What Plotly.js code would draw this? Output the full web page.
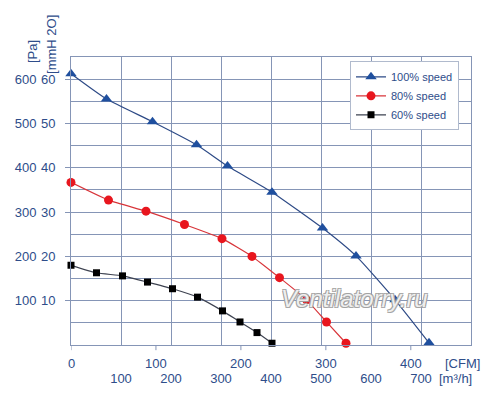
<!DOCTYPE html>
<html>
<head>
<meta charset="utf-8">
<script src="https://cdn.plot.ly/plotly-3.0.1.min.js"></script>
<style>html,body{margin:0;padding:0;background:#fff;}#chart{width:500px;height:402px;}</style>
</head>
<body>
<div id="chart"></div>
<script>
// Airflow in m³/h, pressure in Pa
const seriesNames = ['100% speed', '80% speed', '60% speed'];
const flow100 = [0, 71, 163, 251, 313, 402, 503, 570, 648, 716];
const pres100 = [612, 555, 504, 452, 404, 345, 264, 201, 102, 5];
const flow80 = [0, 75, 150, 227, 302, 362, 417, 471, 511, 550];
const pres80 = [367, 327, 302, 272, 240, 200, 152, 102, 52, 4];
const flow60 = [0, 51, 103, 153, 203, 253, 303, 338, 372, 402];
const pres60 = [180, 163, 156, 142, 127, 108, 77, 52, 28, 4];

const paTicks = [100, 200, 300, 400, 500, 600];
const paLabels = ['100', '200', '300', '400', '500', '600'];
const mmTicks = [10, 20, 30, 40, 50, 60];
const mmLabels = ['10', '20', '30', '40', '50', '60'];
const m3hTicks = [100, 200, 300, 400, 500, 600, 700];
const m3hLabels = ['100', '200', '300', '400', '500', '600', '700'];
const cfmTicks = [0, 100, 200, 300, 400];
const cfmLabels = ['0', '100', '200', '300', '400'];
const CFM_TO_M3H = 1.699;   // 1 CFM in m³/h
const PA_PER_MM = 10;       // chart scale: 10 Pa per mmH2O

const txt = '#2e4d8a';
const grid = '#8595b6';
const font = 'Liberation Sans, Arial, sans-serif';

const traces = [
  {x: flow100, y: pres100, name: seriesNames[0], type: 'scatter', mode: 'lines+markers',
   line: {color: '#2d4a86', width: 1.2, shape: 'spline', smoothing: 0.5},
   marker: {symbol: 'triangle-up', size: 10, color: '#1f4f9e'}, cliponaxis: false},
  {x: flow80, y: pres80, name: seriesNames[1], type: 'scatter', mode: 'lines+markers',
   line: {color: '#d8353a', width: 1.2, shape: 'spline', smoothing: 0.5},
   marker: {symbol: 'circle', size: 9, color: '#e8161e'}, cliponaxis: false},
  {x: flow60, y: pres60, name: seriesNames[2], type: 'scatter', mode: 'lines+markers',
   line: {color: '#3d4250', width: 1.2, shape: 'spline', smoothing: 0.5},
   marker: {symbol: 'square', size: 7, color: '#000000'}, cliponaxis: false}
];

const annotations = [];
// secondary pressure scale (mmH2O) beside the Pa axis
mmTicks.forEach((v, i) => annotations.push({
  text: mmLabels[i], xref: 'paper', yref: 'y', x: -0.035, y: v * PA_PER_MM,
  xanchor: 'right', yanchor: 'middle', showarrow: false, font: {size: 13, color: txt, family: font}}));
// secondary flow scale (CFM) above the m³/h labels
cfmTicks.forEach((v, i) => annotations.push({
  text: cfmLabels[i], xref: 'x', yref: 'paper', x: v * CFM_TO_M3H, y: -0.0625,
  xanchor: 'center', yanchor: 'middle', showarrow: false, font: {size: 13, color: txt, family: font}}));
annotations.push(
  {text: '[Pa]', xref: 'paper', yref: 'paper', x: -0.0975, y: 1.017, textangle: -90,
   xanchor: 'center', yanchor: 'middle', showarrow: false, font: {size: 13, color: txt, family: font}},
  {text: '[mmH 2O]', xref: 'paper', yref: 'paper', x: -0.0475, y: 1.042, textangle: -90,
   xanchor: 'center', yanchor: 'middle', showarrow: false, font: {size: 13, color: txt, family: font}},
  {text: '[CFM]', xref: 'paper', yref: 'paper', x: 0.93, y: -0.0625, xanchor: 'left', yanchor: 'middle',
   showarrow: false, font: {size: 13, color: txt, family: font}},
  {text: '[m³/h]', xref: 'paper', yref: 'paper', x: 0.915, y: -0.1146, xanchor: 'left', yanchor: 'middle',
   showarrow: false, font: {size: 13, color: txt, family: font}},
  {text: '<i>Ventilatorry.ru</i>', xref: 'paper', yref: 'paper', x: 0.7075, y: 0.163,
   xanchor: 'center', yanchor: 'middle', showarrow: false,
   font: {size: 24, color: 'rgba(250,250,250,0.9)', family: font,
     shadow: '1px 1px 0 #a0a0a0, -1px -1px 0 #a0a0a0, 1px -1px 0 #a0a0a0, -1px 1px 0 #a0a0a0'}}
);

const shapes = cfmTicks.map(v => ({
  type: 'line', xref: 'x', yref: 'paper', x0: v * CFM_TO_M3H, x1: v * CFM_TO_M3H, y0: 0, y1: -0.018,
  line: {color: grid, width: 1}, layer: 'above'}));

const layout = {
  width: 500, height: 402,
  margin: {l: 71, r: 29, t: 57, b: 57},
  paper_bgcolor: '#ffffff', plot_bgcolor: '#ffffff',
  font: {family: font, size: 13, color: txt},
  showlegend: true,
  legend: {x: 0.6975, y: 0.985, xanchor: 'left', yanchor: 'top',
    bgcolor: '#ffffff', bordercolor: '#b0bacd', borderwidth: 1,
    font: {size: 11, color: txt, family: font}, tracegroupgap: 0, itemwidth: 30},
  xaxis: {range: [0, 800], tickvals: m3hTicks, ticktext: m3hLabels, ticks: '',
    showgrid: true, gridcolor: grid, gridwidth: 1,
    minor: {dtick: 100, tick0: 0, showgrid: true, gridcolor: grid},
    showline: true, linecolor: grid, linewidth: 1, mirror: true,
    zeroline: false, ticklabelstandoff: 21, tickfont: {size: 13, color: txt}},
  yaxis: {range: [0, 650], tickvals: paTicks, ticktext: paLabels, ticks: 'outside', ticklen: 5, tickcolor: grid,
    showgrid: true, gridcolor: grid, gridwidth: 1,
    minor: {dtick: 50, tick0: 0, showgrid: true, gridcolor: grid},
    showline: true, linecolor: grid, linewidth: 1, mirror: true,
    zeroline: false, ticklabelstandoff: 26, tickfont: {size: 13, color: txt}},
  annotations: annotations,
  shapes: shapes
};

Plotly.newPlot('chart', traces, layout, {displayModeBar: false, staticPlot: true});
</script>
</body>
</html>
